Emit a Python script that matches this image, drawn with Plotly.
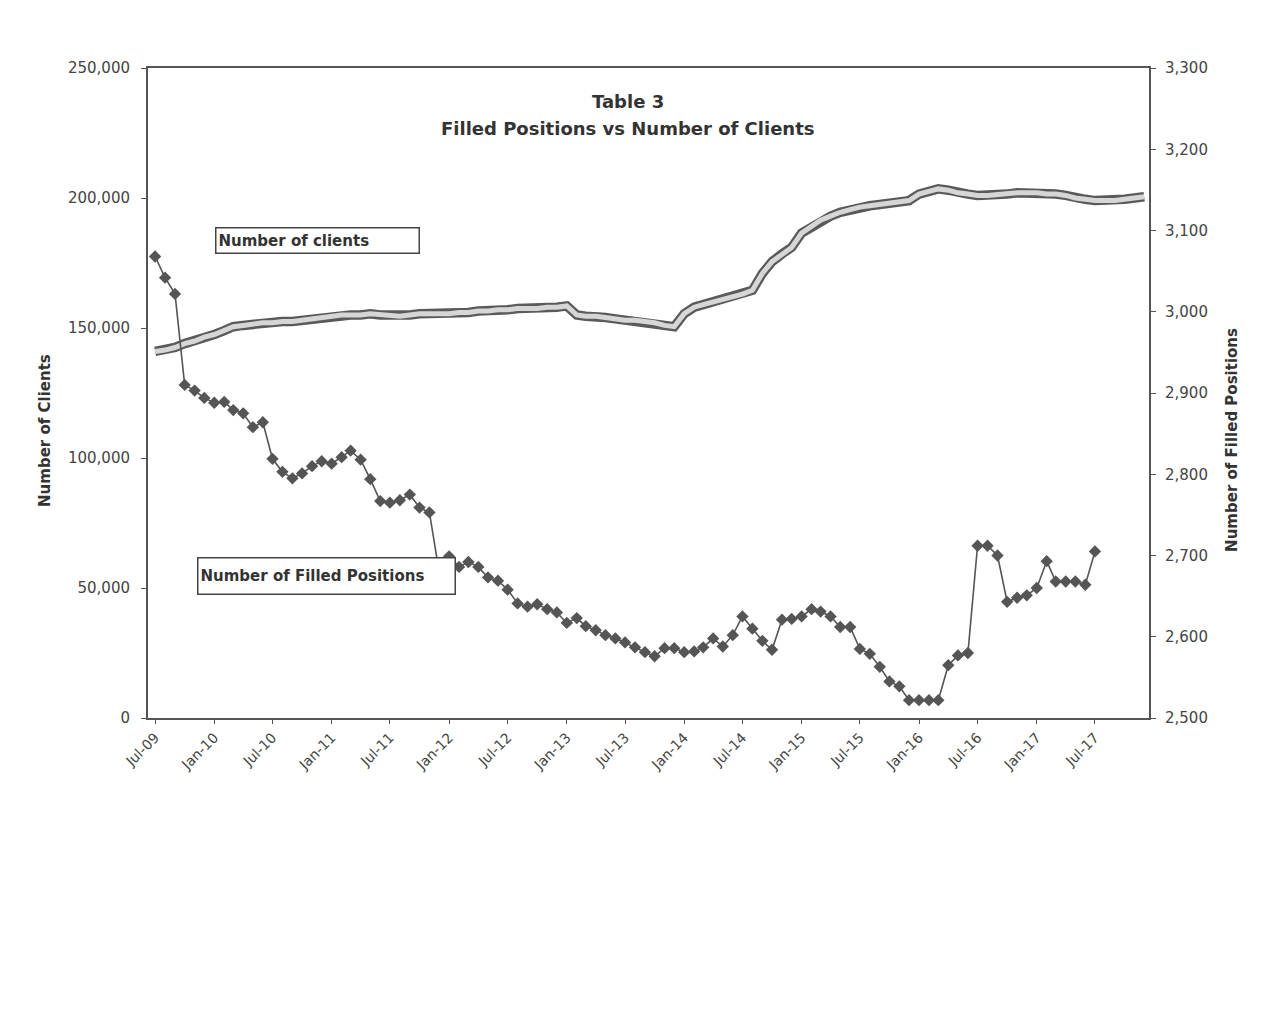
import pandas as pd
import plotly.graph_objects as go

# ---- data ----
start_month = "2009-07-01"

clients = [141000, 141500, 142500, 144000, 145000, 146500, 147500, 149000, 150500, 151000,
           151500, 152000, 152000, 152500, 152500, 153000, 153500, 154000, 154500, 155000,
           155000, 155000, 155500, 155000, 155000, 154500, 155000, 155500, 155500, 155500,
           155500, 156000, 156000, 156500, 156500, 157000, 157000, 157500, 157500, 157500,
           158000, 158000, 158500, 155000, 154500, 154500, 154000, 153500, 153000, 153000,
           152500, 152000, 151000, 150500, 155500, 158000, 159000, 160000, 161000, 162000,
           163000, 164500, 171000, 175500, 178500, 181000, 186500, 189000, 191500, 193000,
           194500, 195500, 196500, 197000, 197500, 198000, 198500, 199000, 201500, 202500,
           203500, 203000, 202000, 201500, 201000, 201000, 201500, 201500, 202000, 202000,
           202000, 201500, 201500, 201000, 200000, 199500, 199000, 199000, 199000, 199500,
           200000, 200500]

filled_positions = [3068, 3042, 3022, 2910, 2903, 2894, 2888, 2889, 2879, 2875,
                    2858, 2864, 2819, 2803, 2795, 2801, 2810, 2816, 2813, 2821,
                    2829, 2818, 2794, 2767, 2765, 2768, 2775, 2759, 2753, 2680,
                    2699, 2686, 2692, 2686, 2673, 2669, 2658, 2641, 2637, 2640,
                    2634, 2630, 2617, 2623, 2613, 2608, 2602, 2598, 2593, 2587,
                    2581, 2576, 2586, 2586, 2581, 2582, 2587, 2598, 2588, 2602,
                    2625, 2610, 2595, 2584, 2621, 2622, 2625, 2634, 2631, 2625,
                    2612, 2612, 2585, 2579, 2563, 2545, 2539, 2522, 2522, 2522,
                    2522, 2565, 2577, 2580, 2712, 2712, 2700, 2643, 2648, 2651,
                    2660, 2693, 2668, 2668, 2668, 2664, 2705]

left_ticks = [0, 50000, 100000, 150000, 200000, 250000]
right_ticks = [2500, 2600, 2700, 2800, 2900, 3000, 3100, 3200, 3300]

months_clients = pd.date_range(start_month, periods=len(clients), freq="MS")
months_filled = pd.date_range(start_month, periods=len(filled_positions), freq="MS")

FONT = "DejaVu Sans, Verdana, sans-serif"
DARK = "#555555"
TXT = "#444444"
TITLE_TXT = "#333333"

fig = go.Figure()

# Number of clients: hollow-looking thick band
fig.add_trace(go.Scatter(x=months_clients, y=clients, mode="lines",
                         line=dict(color="#5a5a5a", width=9.5),
                         hoverinfo="skip", showlegend=False, yaxis="y"))
fig.add_trace(go.Scatter(x=months_clients, y=clients, mode="lines",
                         line=dict(color="#d6d6d6", width=5),
                         name="Number of clients", showlegend=False, yaxis="y"))

# Number of filled positions
fig.add_trace(go.Scatter(x=months_filled, y=filled_positions, mode="lines+markers",
                         line=dict(color=DARK, width=1.6),
                         marker=dict(symbol="diamond", size=9.5, color=DARK),
                         name="Number of Filled Positions", showlegend=False,
                         yaxis="y2"))

# page body has an 8px margin; compensate so the plot area lands at x 148..1149, y 68..718
fig.update_layout(
    width=1264, height=1017,
    paper_bgcolor="white", plot_bgcolor="white",
    margin=dict(l=140, r=123, t=60, b=307),
    font=dict(family=FONT, color=TXT, size=14),
    showlegend=False,
    xaxis=dict(
        type="date", range=["2009-06-09", "2017-12-16"],
        tick0="2009-07-01", dtick="M6", tickformat="%b-%y", tickangle=-45,
        showgrid=False, zeroline=False,
        showline=True, linecolor=DARK, linewidth=2, mirror=True,
        ticks="outside", ticklen=4, tickcolor=DARK,
        tickfont=dict(size=14, color=TXT),
    ),
    yaxis=dict(
        range=[0, 250000], tickvals=left_ticks, tickformat=",d",
        showgrid=False, zeroline=False,
        showline=True, linecolor=DARK, linewidth=2,
        ticks="outside", ticklen=5, tickcolor=DARK, ticklabelstandoff=8,
        tickfont=dict(size=15, color=TXT),
    ),
    yaxis2=dict(
        range=[2500, 3300], tickvals=right_ticks, tickformat=",d",
        overlaying="y", side="right",
        showgrid=False, zeroline=False,
        showline=True, linecolor=DARK, linewidth=2,
        ticks="outside", ticklen=5, tickcolor=DARK, ticklabelstandoff=6,
        tickfont=dict(size=15, color=TXT),
    ),
)

# Title
fig.add_annotation(text="<b>Table 3</b>", xref="paper", yref="paper",
                   x=0.4795, y=0.949, xanchor="center", yanchor="middle", showarrow=False,
                   font=dict(size=18, color=TITLE_TXT, family=FONT))
fig.add_annotation(text="<b>Filled Positions vs Number of Clients</b>", xref="paper",
                   yref="paper", x=0.4795, y=0.907, xanchor="center", yanchor="middle",
                   showarrow=False, font=dict(size=18, color=TITLE_TXT, family=FONT))

# Axis titles
fig.add_annotation(text="<b>Number of Clients</b>", xref="paper", yref="paper",
                   x=-0.103, y=0.443, xanchor="center", yanchor="middle",
                   textangle=-90, showarrow=False,
                   font=dict(size=15, color=TITLE_TXT, family=FONT))
fig.add_annotation(text="<b>Number of Filled Positions</b>", xref="paper", yref="paper",
                   x=1.083, y=0.428, xanchor="center", yanchor="middle",
                   textangle=-90, showarrow=False,
                   font=dict(size=15, color=TITLE_TXT, family=FONT))

# Series labels (boxed)
fig.add_annotation(text="<b>Number of clients</b>", xref="paper", yref="paper",
                   x=0.067, y=0.734, xanchor="left", yanchor="middle",
                   align="left", width=198, height=20, showarrow=False,
                   bgcolor="white", bordercolor="#444444", borderwidth=1.5, borderpad=2,
                   font=dict(size=15, color=TITLE_TXT, family=FONT))
fig.add_annotation(text="<b>Number of Filled Positions</b>", xref="paper", yref="paper",
                   x=0.049, y=0.218, xanchor="left", yanchor="middle",
                   align="left", width=252, height=31, showarrow=False,
                   bgcolor="white", bordercolor="#444444", borderwidth=1.5, borderpad=2,
                   font=dict(size=15, color=TITLE_TXT, family=FONT))

fig.write_html("out.html")
